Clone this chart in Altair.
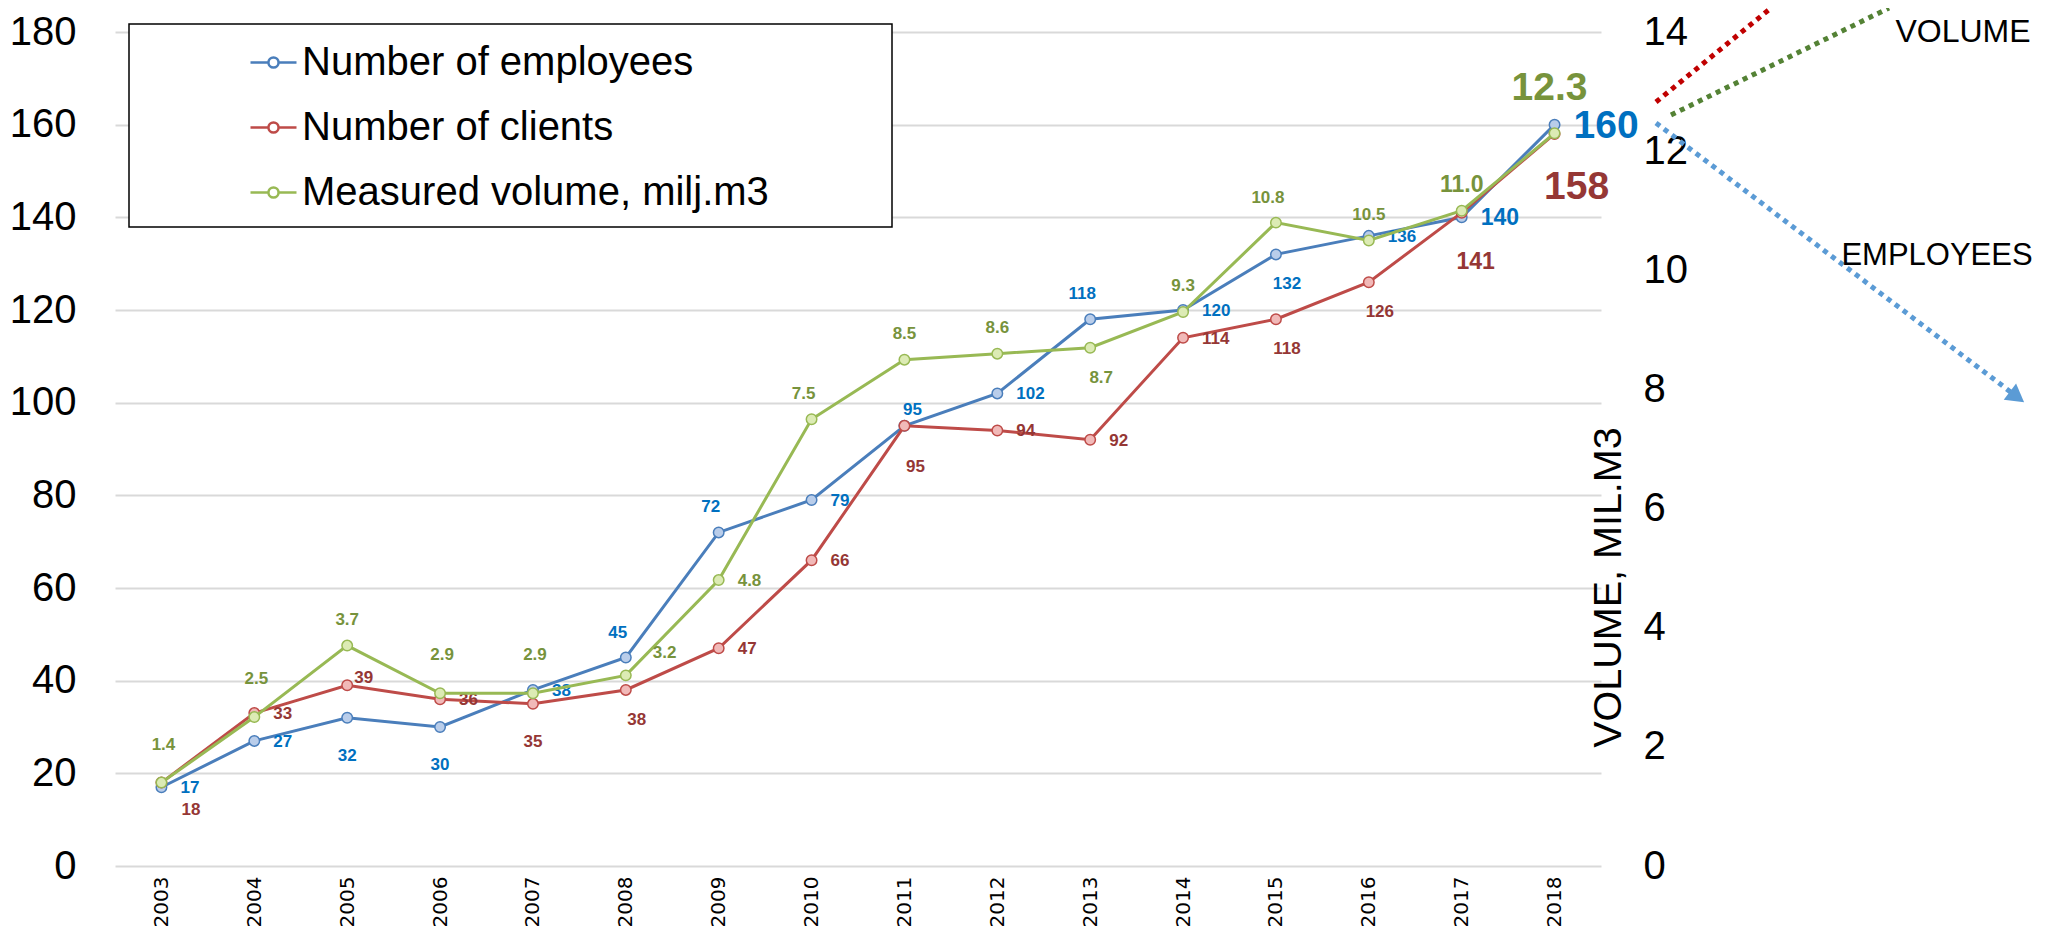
import altair as alt
import pandas as pd

# ---------------- data ----------------
years = [2003, 2004, 2005, 2006, 2007, 2008, 2009, 2010,
         2011, 2012, 2013, 2014, 2015, 2016, 2017, 2018]
employees = [17, 27, 32, 30, 38, 45, 72, 79, 95, 102, 118, 120, 132, 136, 140, 160]
clients = [18, 33, 39, 36, 35, 38, 47, 66, 95, 94, 92, 114, 118, 126, 141, 158]
volume = [1.4, 2.5, 3.7, 2.9, 2.9, 3.2, 4.8, 7.5, 8.5, 8.6, 8.7, 9.3, 10.8, 10.5, 11.0, 12.3]

series = ["Number of employees", "Number of clients", "Measured volume, milj.m3"]

# data-label placement class for every point (Excel-like label positions)
emp_label_pos = ["r", "r", "b", "b", "r", "al", "al", "r", "ar", "r", "al", "r", "br", "r", "r", "r"]
cli_label_pos = ["lr", "r", "ur", "r", "b", "br", "r", "r", "bb", "r", "r", "r", "br", "br", "mb", "gb"]
vol_label_pos = ["ah", "ah", "a", "ah", "ah", "ru", "r", "al", "a", "a", "br", "a", "al", "a", "a", "ga"]

# ---------------- styles ----------------
FONT = "Liberation Sans"
line_colors = ["#4a7ebb", "#be4b48", "#98b954"]
marker_fills = ["#b9cdea", "#f1b9b8", "#dcebb4"]
label_colors = ["#0070c0", "#953735", "#77933c"]

LABEL_POS = {
    "r": ("left", 19, 1),
    "b": ("center", 0, 38),
    "al": ("center", -8, -25),
    "ar": ("center", 8, -16),
    "br": ("center", 11, 30),
    "bb": ("center", 11, 41),
    "lr": ("left", 20, 27),
    "ur": ("left", 7, -7),
    "a": ("center", 0, -26),
    "ah": ("center", 2, -38),
    "ru": ("left", 27, -22),
    "mb": ("center", 14, 49),
    "gb": ("center", 22, 53),
    "ga": ("center", -5, -45),
}

X = alt.X(
    "year:O",
    scale=alt.Scale(type="point", padding=0.5),
    axis=alt.Axis(
        title=None, labelAngle=270, labelAlign="right", labelBaseline="middle",
        labelPadding=10, labelFont="DejaVu Sans", labelFontSize=20, labelColor="black",
        domain=False, ticks=False, grid=False,
    ),
)

Y_LEFT = alt.Y(
    "value:Q",
    scale=alt.Scale(domain=[0, 180], nice=False),
    axis=alt.Axis(
        title=None, orient="left", values=list(range(0, 181, 20)),
        grid=True, gridColor="#d9d9d9", gridWidth=2, domain=False, ticks=False,
        labelFont=FONT, labelFontSize=40, labelPadding=39, labelColor="black",
    ),
)

Y_RIGHT = alt.Y(
    "value:Q",
    scale=alt.Scale(domain=[0, 14], nice=False),
    axis=alt.Axis(
        title="VOLUME, MIL.M3", orient="right", values=list(range(0, 15, 2)),
        grid=False, domain=False, ticks=False,
        labelFont=FONT, labelFontSize=40, labelPadding=42, labelColor="black",
        titleFont=FONT, titleFontSize=39.5, titleFontWeight="normal", titleColor="black",
        titleAngle=270, titleX=19, titleY=555, titleAlign="center", titleBaseline="alphabetic",
    ),
)

LEGEND_SYMBOL = ("M-1,0H-0.22M0.22,0H1M-0.22,0A0.22,0.22 0 1 1 0.22,0"
                 "A0.22,0.22 0 1 1 -0.22,0Z")

COLOR = alt.Color(
    "series:N",
    scale=alt.Scale(domain=series, range=line_colors),
    sort=series,
    legend=alt.Legend(
        title=None, orient="none", legendX=134, legendY=6, padding=0,
        symbolType=LEGEND_SYMBOL, symbolSize=2116, symbolStrokeWidth=2.5,
        symbolFillColor="white", labelFont=FONT, labelFontSize=40, labelColor="black",
        labelOffset=4, rowPadding=20, labelLimit=1000,
    ),
)


def series_layers(values, idx, y_enc, pos_list, fmt):
    df = pd.DataFrame({
        "year": years,
        "value": values,
        "series": series[idx],
        "label": [fmt(v) for v in values],
        "pos": pos_list,
    })
    base = alt.Chart(df)
    layers = [
        base.mark_line(strokeWidth=3).encode(x=X, y=y_enc, color=COLOR),
        base.mark_circle(size=110, opacity=1, strokeWidth=1.5).encode(
            x=X, y=y_enc,
            fill=alt.value(marker_fills[idx]), stroke=alt.value(line_colors[idx])),
    ]
    for cls in dict.fromkeys(pos_list):
        align, dx, dy = LABEL_POS[cls]
        layers.append(
            base.transform_filter(f"datum.pos == '{cls}'")
            .transform_calculate(fs="datum.year == 2018 ? 39 : (datum.year == 2017 ? 23 : 17)")
            .mark_text(align=align, baseline="middle", dx=dx, dy=dy,
                       font=FONT, fontWeight="bold", color=label_colors[idx])
            .encode(x=X, y=y_enc, text="label:N",
                    size=alt.Size("fs:Q", scale=None, legend=None))
        )
    return layers


left = alt.layer(
    *series_layers(employees, 0, Y_LEFT, emp_label_pos, lambda v: f"{v:d}"),
    *series_layers(clients, 1, Y_LEFT, cli_label_pos, lambda v: f"{v:d}"),
)
right = alt.layer(*series_layers(volume, 2, Y_RIGHT, vol_label_pos, lambda v: f"{v:.1f}"))

# ---------------- decorations ----------------
one = alt.Chart(alt.Data(values=[{"k": 0}]))

legend_box = one.mark_rect(fill="white", stroke="black", strokeWidth=1.5).encode(
    x=alt.value(14), x2=alt.value(777), y=alt.value(-8), y2=alt.value(195))

red_arrow = one.mark_rule(color="#c00000", strokeWidth=5, strokeDash=[5, 5]).encode(
    x=alt.value(1541), y=alt.value(70), x2=alt.value(1656), y2=alt.value(-24))
green_arrow = one.mark_rule(color="#548235", strokeWidth=5, strokeDash=[5, 5]).encode(
    x=alt.value(1556), y=alt.value(83), x2=alt.value(1774), y2=alt.value(-24))
blue_arrow = one.mark_rule(color="#5b9bd5", strokeWidth=5, strokeDash=[5, 5]).encode(
    x=alt.value(1541), y=alt.value(91), x2=alt.value(1897), y2=alt.value(361))
blue_head = one.mark_point(shape="triangle-up", filled=True, size=420, angle=127,
                           color="#5b9bd5", opacity=1).encode(
    x=alt.value(1902), y=alt.value(365))
volume_txt = one.mark_text(text="VOLUME", font=FONT, fontSize=32, color="black",
                           align="center", baseline="middle").encode(
    x=alt.value(1848), y=alt.value(0))
employees_txt = one.mark_text(text="EMPLOYEES", font=FONT, fontSize=31, color="black",
                              align="center", baseline="middle").encode(
    x=alt.value(1822), y=alt.value(224))

chart = (
    alt.layer(legend_box, left, right, red_arrow, green_arrow, blue_arrow, blue_head,
              volume_txt, employees_txt)
    .resolve_scale(y="independent")
    .properties(
        width=1486, height=834,
        autosize=alt.AutoSizeParams(type="none"),
        padding={"left": 107, "top": 24, "right": 440, "bottom": 60},
        background="white",
    )
    .configure_view(strokeWidth=0)
)

chart.save("out.html", embed_options={"renderer": "svg", "actions": False})
